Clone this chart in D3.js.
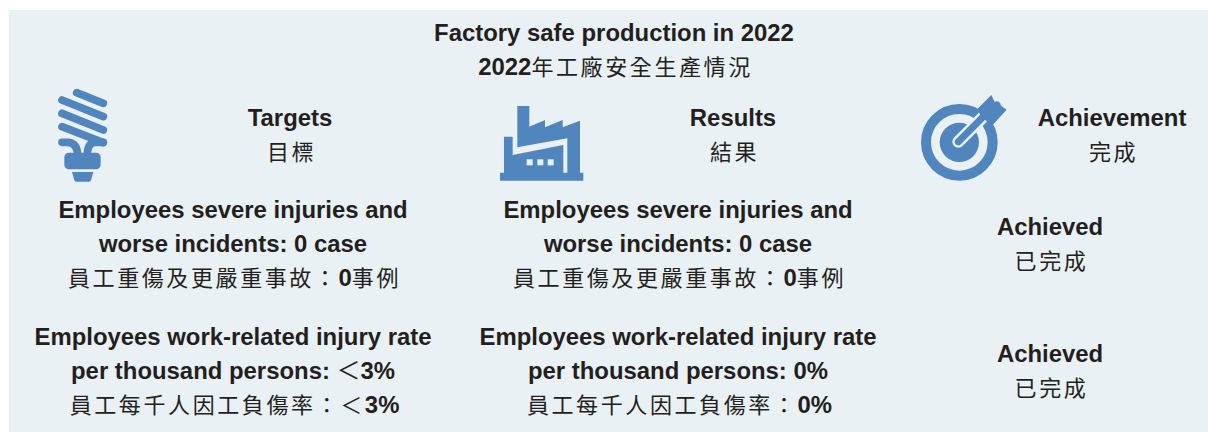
<!DOCTYPE html>
<html>
<head>
<meta charset="utf-8">
<script src="https://cdn.jsdelivr.net/npm/d3@7"></script>
<style>
  html, body { margin: 0; padding: 0; background: #fff; }
  svg { display: block; }
  text { fill: #231f20; text-anchor: middle; }
  .en { font-family: 'Liberation Sans', sans-serif; font-weight: 700; font-size: 23.9px; }
  .zh { font-family: 'Noto Sans CJK TC', sans-serif; font-weight: 400; font-size: 22px; letter-spacing: 2.6px; }
  .zh .num { font-family: 'Liberation Sans', sans-serif; font-weight: 700; font-size: 23.9px; letter-spacing: 0; }
</style>
</head>
<body>
<svg id="chart" width="1208" height="432"></svg>
<script>
const titleLines = ['Factory safe production in 2022', '2022年工廠安全生產情況'];
const headers = [
  ['Targets', '目標'],
  ['Results', '結果'],
  ['Achievement', '完成'],
];
const severeRow = [
  ['Employees severe injuries and', 'worse incidents: 0 case', '員工重傷及更嚴重事故：0事例'],
  ['Employees severe injuries and', 'worse incidents: 0 case', '員工重傷及更嚴重事故：0事例'],
  ['Achieved', '已完成'],
];
const injuryRow = [
  ['Employees work-related injury rate', 'per thousand persons: ＜3%', '員工每千人因工負傷率：＜3%'],
  ['Employees work-related injury rate', 'per thousand persons: 0%', '員工每千人因工負傷率：0%'],
  ['Achieved', '已完成'],
];

const blue = '#5085be';
const panel = '#e9f1f5';
const lineGap = 34;

const svg = d3.select('#chart');

svg.append('rect')
  .attr('x', 9)
  .attr('y', 10)
  .attr('width', 1199)
  .attr('height', 422)
  .attr('fill', panel);

// one text block, centred on x, first line centred on y
function addBlock(lines, x, y) {
  lines.forEach((line, i) => {
    const hasCjk = /[\u3400-\u9fff]/.test(line);
    const t = svg.append('text')
      .attr('class', hasCjk ? 'zh' : 'en')
      // letter-spacing pushes the chinese lines left, put that back
      .attr('x', hasCjk ? x + 1.5 : x)
      .attr('y', y + i * lineGap + 8);
    // latin digits inside the chinese lines are bold, and the fullwidth sign stays light
    line.split(/([0-9%]+|＜)/).filter((s) => s).forEach((part) => {
      const span = t.append('tspan').text(part);
      if (hasCjk && /[0-9%]/.test(part)) span.attr('class', 'num');
      if (part === '＜') {
        span.attr('font-family', 'Noto Sans CJK TC').attr('font-weight', 400);
      }
    });
  });
}

addBlock(titleLines, 614, 33);

const headerX = [290, 733, 1112];
const bodyX = [233, 678, 1050];
headers.forEach((d, i) => addBlock(d, headerX[i], 118));
severeRow.forEach((d, i) => addBlock(d, bodyX[i], d.length === 3 ? 210 : 227));
injuryRow.forEach((d, i) => addBlock(d, bodyX[i], d.length === 3 ? 337 : 354));

// Icons, drawn in the 3x coordinates of the crop they were measured on
const bulb = svg.append('g').attr('transform', 'scale(0.3333)');
bulb.selectAll('line')
  .data([[230, 278, 310, 310], [186, 300, 310, 350], [186, 340, 310, 390], [186, 380, 310, 428]])
  .enter()
  .append('line')
  .attr('x1', (d) => d[0])
  .attr('y1', (d) => d[1])
  .attr('x2', (d) => d[2])
  .attr('y2', (d) => d[3])
  .attr('stroke', blue)
  .attr('stroke-width', 23)
  .attr('stroke-linecap', 'round');
bulb.append('path')
  .attr('d', 'M186,427 H205 Q232,430 233,465 M310,427 H285 Q262,430 262,465')
  .attr('fill', 'none')
  .attr('stroke', blue)
  .attr('stroke-width', 23)
  .attr('stroke-linecap', 'round');
bulb.append('rect')
  .attr('x', 193)
  .attr('y', 458)
  .attr('width', 109)
  .attr('height', 50)
  .attr('rx', 14)
  .attr('fill', blue);
bulb.append('path')
  .attr('d', 'M216,516 H280 L273,541 Q272,545 268,545 H228 Q224,545 223,541 Z')
  .attr('fill', blue);

const factory = svg.append('g').attr('transform', 'translate(480,90) scale(0.3333)');
factory.append('path')
  .attr('d', 'M112,48 H148 V110 L195,90 V112 L248,90 V112 L300,92 V248 H262 V145 L112,172 Z'
    + 'M72,140 H98 V195 L250,165 V248 H72 Z M60,248 H310 V272 H60 Z')
  .attr('fill', blue);
factory.selectAll('rect')
  .data([140, 172, 203])
  .enter()
  .append('rect')
  .attr('x', (d) => d)
  .attr('y', 208)
  .attr('width', 18)
  .attr('height', 18)
  .attr('fill', panel);

const target = svg.append('g').attr('transform', 'translate(900,85) scale(0.3333)');
target.append('circle')
  .attr('cx', 178)
  .attr('cy', 172)
  .attr('r', 100)
  .attr('fill', 'none')
  .attr('stroke', blue)
  .attr('stroke-width', 30);
target.append('circle')
  .attr('cx', 178)
  .attr('cy', 172)
  .attr('r', 59)
  .attr('fill', blue);
target.append('line')
  .attr('x1', 175)
  .attr('y1', 170)
  .attr('x2', 262)
  .attr('y2', 83)
  .attr('stroke', panel)
  .attr('stroke-width', 36)
  .attr('stroke-linecap', 'round');
target.append('line')
  .attr('x1', 175)
  .attr('y1', 170)
  .attr('x2', 255)
  .attr('y2', 90)
  .attr('stroke', blue)
  .attr('stroke-width', 21)
  .attr('stroke-linecap', 'round');
target.append('path')
  .attr('d', 'M232,72 L274,30 L284,50 Q300,44 303,62 L320,74 L278,120 L262,110 L242,92 Z')
  .attr('fill', blue);
</script>
</body>
</html>
